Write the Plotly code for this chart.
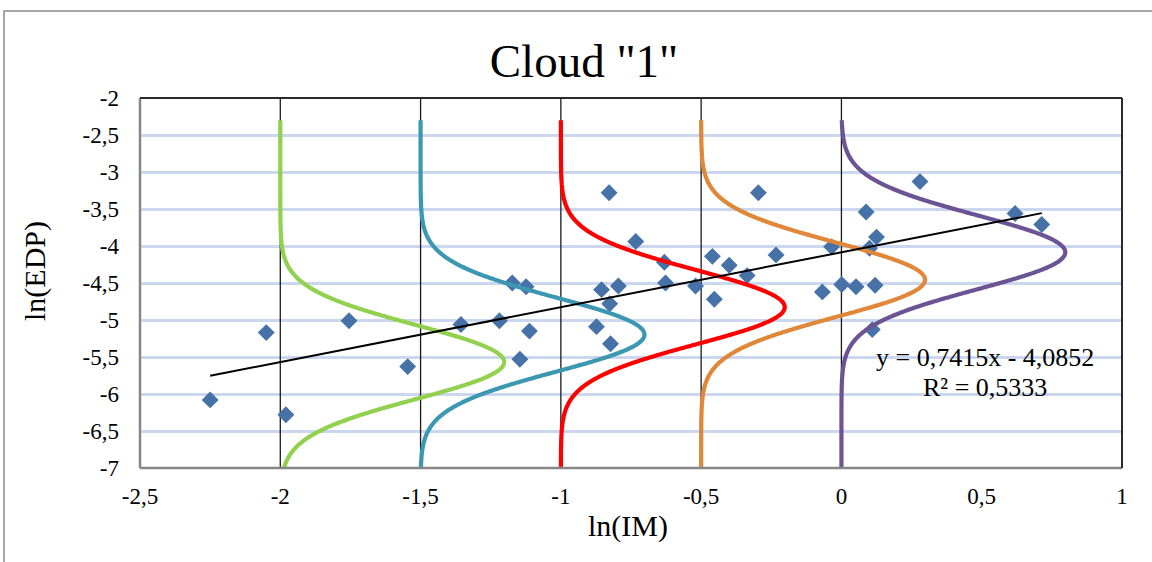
import numpy as np
import plotly.graph_objects as go

# ---- data ----
ln_im = [-2.25, -2.05, -1.98, -1.755, -1.546, -1.356, -1.219, -1.173, -1.124, -1.112,
         -1.146, -0.828, -0.733, -0.855, -0.795, -0.826, -0.873, -0.823, -0.631, -0.627,
         -0.520, -0.460, -0.453, -0.400, -0.336, -0.296, -0.233, -0.068, -0.035, 0.001,
         0.052, 0.120, 0.088, 0.125, 0.100, 0.280, 0.619, 0.714, 0.110]
ln_edp = [-6.08, -5.17, -6.28, -5.01, -5.63, -5.06, -5.01, -4.50, -4.55, -5.15,
          -5.53, -3.28, -3.94, -4.59, -4.54, -4.78, -5.09, -5.32, -4.22, -4.50,
          -4.54, -4.14, -4.72, -4.26, -4.40, -3.28, -4.12, -4.62, -4.01, -4.52,
          -4.55, -4.53, -3.54, -3.88, -4.03, -3.13, -3.56, -3.71, -5.13]

trend_slope = 0.7415
trend_intercept = -4.0852
r_squared = 0.5333
pdf_centers = [-2.0, -1.5, -1.0, -0.5, 0.0]
pdf_sigma = 0.5
pdf_y_range = [-7.0, -2.3]

x_tickvals = [-2.5, -2.0, -1.5, -1.0, -0.5, 0.0, 0.5, 1.0]
x_ticktext = ["-2,5", "-2", "-1,5", "-1", "-0,5", "0", "0,5", "1"]
y_tickvals = [-2.0, -2.5, -3.0, -3.5, -4.0, -4.5, -5.0, -5.5, -6.0, -6.5, -7.0]
y_ticktext = ["-2", "-2,5", "-3", "-3,5", "-4", "-4,5", "-5", "-5,5", "-6", "-6,5", "-7"]

curve_colors = ["#92D050", "#3C98B2", "#FF0000", "#E0873A", "#6C5393"]
FONT = "Liberation Serif"

fig = go.Figure()

# vertical reference lines at each conditioning IM
for c in pdf_centers:
    fig.add_trace(go.Scatter(x=[c, c], y=[-2.0, -7.0], mode="lines",
                             line=dict(color="#1a1a1a", width=1.3), hoverinfo="skip"))

# cloud points
fig.add_trace(go.Scatter(x=ln_im, y=ln_edp, mode="markers",
                         marker=dict(symbol="diamond", size=13, color="#4672A8",
                                     line=dict(width=0))))

# conditional normal pdfs of ln(EDP) given ln(IM)
yy = np.linspace(pdf_y_range[0], pdf_y_range[1], 400)
for c, col in zip(pdf_centers, curve_colors):
    mu = trend_slope * c + trend_intercept
    pdf = np.exp(-0.5 * ((yy - mu) / pdf_sigma) ** 2) / (pdf_sigma * np.sqrt(2 * np.pi))
    fig.add_trace(go.Scatter(x=c + pdf, y=yy, mode="lines",
                             line=dict(color=col, width=4.2, shape="spline"), hoverinfo="skip"))

# linear trendline
xt = np.array([min(ln_im), max(ln_im)])
fig.add_trace(go.Scatter(x=xt, y=trend_slope * xt + trend_intercept, mode="lines",
                         line=dict(color="black", width=2), hoverinfo="skip"))

# plot area pixel geometry
L, R, T, B = 140, 30, 98, 94
W, H = 1152, 562
pw, ph = W - L - R, H - T - B

def px_x(p):
    return (p - L) / pw

def px_y(p):
    return (H - B - p) / ph

fig.update_layout(
    width=W, height=H,
    margin=dict(l=L, r=R, t=T, b=B),
    paper_bgcolor="white", plot_bgcolor="white",
    showlegend=False,
    font=dict(family=FONT, color="black"),
    title=dict(text='Cloud "1"', font=dict(family=FONT, size=47, color="black"),
               x=584 / W, xanchor="center", y=1 - 61 / H, yanchor="middle",
               xref="container", yref="container"),
    xaxis=dict(range=[-2.5, 1.0], tickvals=x_tickvals, ticktext=x_ticktext,
               showgrid=False, zeroline=False, showline=False,
               tickfont=dict(family=FONT, size=23, color="black"),
               ticks="", ticklabelstandoff=12),
    yaxis=dict(range=[-7.0, -2.0], tickvals=y_tickvals, ticktext=y_ticktext,
               showgrid=True, gridcolor="#CAD7EE", gridwidth=2.5,
               zeroline=False, showline=False,
               tickfont=dict(family=FONT, size=23, color="black"),
               ticks="", ticklabelstandoff=20),
    annotations=[
        dict(text="ln(IM)", xref="paper", yref="paper", x=px_x(628), y=px_y(526),
             xanchor="center", yanchor="middle", showarrow=False,
             font=dict(family=FONT, size=30, color="black")),
        dict(text="ln(EDP)", xref="paper", yref="paper", x=px_x(35), y=px_y(271),
             xanchor="center", yanchor="middle", showarrow=False, textangle=-90,
             font=dict(family=FONT, size=30, color="black")),
        dict(text="y = 0,7415x - 4,0852", xref="x", yref="y", x=0.512, y=-5.50,
             xanchor="center", yanchor="middle", showarrow=False,
             font=dict(family=FONT, size=26, color="black")),
        dict(text="R² = " + f"{r_squared:.4f}".replace(".", ","), xref="x", yref="y",
             x=0.512, y=-5.91, xanchor="center", yanchor="middle", showarrow=False,
             font=dict(family=FONT, size=26, color="black")),
    ],
    shapes=[
        # outer chart frame
        dict(type="rect", xref="paper", yref="paper", x0=px_x(4), x1=px_x(1170),
             y0=px_y(580), y1=px_y(11), line=dict(color="#8C8C8C", width=1.5),
             layer="below"),
        # plot area border: left & bottom grey, top & right dark
        dict(type="line", xref="paper", yref="paper", x0=0, x1=0, y0=0, y1=1,
             line=dict(color="#868686", width=2.5)),
        dict(type="line", xref="paper", yref="paper", x0=0, x1=1, y0=0, y1=0,
             line=dict(color="#868686", width=2.5)),
        dict(type="line", xref="paper", yref="paper", x0=0, x1=1, y0=1, y1=1,
             line=dict(color="#2a2a2a", width=2)),
        dict(type="line", xref="paper", yref="paper", x0=1, x1=1, y0=0, y1=1,
             line=dict(color="#2a2a2a", width=2)),
    ],
)

fig.write_html("out.html", config={"displayModeBar": False},
               post_script="document.body.style.margin='0';")
